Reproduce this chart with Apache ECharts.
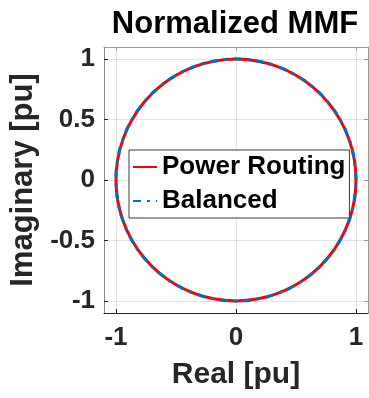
<!DOCTYPE html>
<html>
<head>
<meta charset="utf-8">
<script src="https://cdn.jsdelivr.net/npm/echarts@6/dist/echarts.min.js"></script>
<style>
  html, body { margin: 0; padding: 0; background: #ffffff; }
  #chart { width: 369px; height: 398px; }
</style>
</head>
<body>
<div id="chart"></div>
<script>
// Normalized MMF space phasor, sampled every 10 degrees (real / imaginary parts, pu)
const realPR = [1.000, 0.985, 0.940, 0.866, 0.766, 0.643, 0.500, 0.342, 0.174, 0.000,
  -0.174, -0.342, -0.500, -0.643, -0.766, -0.866, -0.940, -0.985, -1.000,
  -0.985, -0.940, -0.866, -0.766, -0.643, -0.500, -0.342, -0.174, 0.000,
  0.174, 0.342, 0.500, 0.643, 0.766, 0.866, 0.940, 0.985, 1.000];
const imagPR = [0.000, 0.174, 0.342, 0.500, 0.643, 0.766, 0.866, 0.940, 0.985, 1.000,
  0.985, 0.940, 0.866, 0.766, 0.643, 0.500, 0.342, 0.174, 0.000,
  -0.174, -0.342, -0.500, -0.643, -0.766, -0.866, -0.940, -0.985, -1.000,
  -0.985, -0.940, -0.866, -0.766, -0.643, -0.500, -0.342, -0.174, 0.000];
const realBal = [1.000, 0.985, 0.940, 0.866, 0.766, 0.643, 0.500, 0.342, 0.174, 0.000,
  -0.174, -0.342, -0.500, -0.643, -0.766, -0.866, -0.940, -0.985, -1.000,
  -0.985, -0.940, -0.866, -0.766, -0.643, -0.500, -0.342, -0.174, 0.000,
  0.174, 0.342, 0.500, 0.643, 0.766, 0.866, 0.940, 0.985, 1.000];
const imagBal = [0.000, 0.174, 0.342, 0.500, 0.643, 0.766, 0.866, 0.940, 0.985, 1.000,
  0.985, 0.940, 0.866, 0.766, 0.643, 0.500, 0.342, 0.174, 0.000,
  -0.174, -0.342, -0.500, -0.643, -0.766, -0.866, -0.940, -0.985, -1.000,
  -0.985, -0.940, -0.866, -0.766, -0.643, -0.500, -0.342, -0.174, 0.000];

const seriesNames = ['Power Routing', 'Balanced'];
const xTicks = [-1, 0, 1];
const yTicks = [-1, -0.5, 0, 0.5, 1];
const titleText = 'Normalized MMF';
const xName = 'Real [pu]';
const yName = 'Imaginary [pu]';

const FONT = '"Liberation Sans", Arial, Helvetica, sans-serif';
const AX = '#262626';
const GRID = '#e3e3e3';

const pairs = (xs, ys) => xs.map((x, i) => [x, ys[i]]);

const chart = echarts.init(document.getElementById('chart'), null, { renderer: 'canvas' });

function frameAxis(pos, ticks, color) {
  return {
    type: 'value', position: pos, min: -1.1, max: 1.1,
    axisLine: { show: true, onZero: false, lineStyle: { color: color, width: 1 } },
    axisTick: { show: true, inside: true, length: 4, customValues: ticks, lineStyle: { color: color } },
    axisLabel: { show: false },
    splitLine: { show: false }
  };
}

chart.setOption({
  animation: false,
  backgroundColor: '#ffffff',
  graphic: [{
    type: 'text', x: 235, y: 24,
    style: {
      text: titleText, font: 'bold 31px ' + FONT, fill: '#000000',
      textAlign: 'center', textVerticalAlign: 'middle'
    }
  }],
  grid: { left: 104, top: 47, width: 264, height: 266, containLabel: false },
  legend: {
    orient: 'vertical', left: 129, top: 150,
    padding: [4, 4, 4, 3], itemGap: 8, itemWidth: 24, itemHeight: 14,
    backgroundColor: '#ffffff', borderColor: '#3a3a3a', borderWidth: 1, borderRadius: 0,
    itemStyle: { opacity: 0 },
    textStyle: { fontFamily: FONT, fontWeight: 'bold', fontSize: 26, color: '#000000' },
    data: seriesNames
  },
  xAxis: [{
    type: 'value', position: 'bottom', min: -1.1, max: 1.1,
    name: xName, nameLocation: 'middle', nameGap: 47,
    nameTextStyle: { fontFamily: FONT, fontWeight: 'bold', fontSize: 30, color: AX },
    axisLine: { show: true, onZero: false, lineStyle: { color: AX, width: 1 } },
    axisTick: { show: true, inside: true, length: 4, customValues: xTicks, lineStyle: { color: AX } },
    axisLabel: {
      customValues: xTicks, margin: 12, fontFamily: FONT, fontWeight: 'bold', fontSize: 26, color: AX
    },
    splitLine: { show: true, lineStyle: { color: GRID, width: 1 } }
  }, frameAxis('top', xTicks, '#9a9a9a')],
  yAxis: [{
    type: 'value', position: 'left', min: -1.1, max: 1.1,
    name: yName, nameLocation: 'middle', nameGap: 64,
    nameTextStyle: { fontFamily: FONT, fontWeight: 'bold', fontSize: 31, color: AX },
    axisLine: { show: true, onZero: false, lineStyle: { color: '#8a8a8a', width: 1 } },
    axisTick: { show: true, inside: true, length: 4, customValues: yTicks, lineStyle: { color: AX } },
    axisLabel: {
      customValues: yTicks, margin: 9, fontFamily: FONT, fontWeight: 'bold', fontSize: 26, color: AX,
      formatter: v => String(v)
    },
    splitLine: { show: true, lineStyle: { color: GRID, width: 1 } }
  }, frameAxis('right', yTicks, '#9a9a9a')],
  series: [{
    name: seriesNames[0], type: 'line', xAxisIndex: 0, yAxisIndex: 0,
    data: pairs(realPR, imagPR), showSymbol: false, symbol: 'none', smooth: 0.5,
    lineStyle: { color: '#ff0000', width: 3, type: 'solid' },
    itemStyle: { color: '#ff0000' }
  }, {
    name: seriesNames[1], type: 'line', xAxisIndex: 0, yAxisIndex: 0,
    data: pairs(realBal, imagBal), showSymbol: false, symbol: 'none', smooth: 0.5,
    lineStyle: { color: '#0072bd', width: 3, type: [8, 6, 3, 6] },
    itemStyle: { color: '#0072bd' }
  }]
});
</script>
</body>
</html>
